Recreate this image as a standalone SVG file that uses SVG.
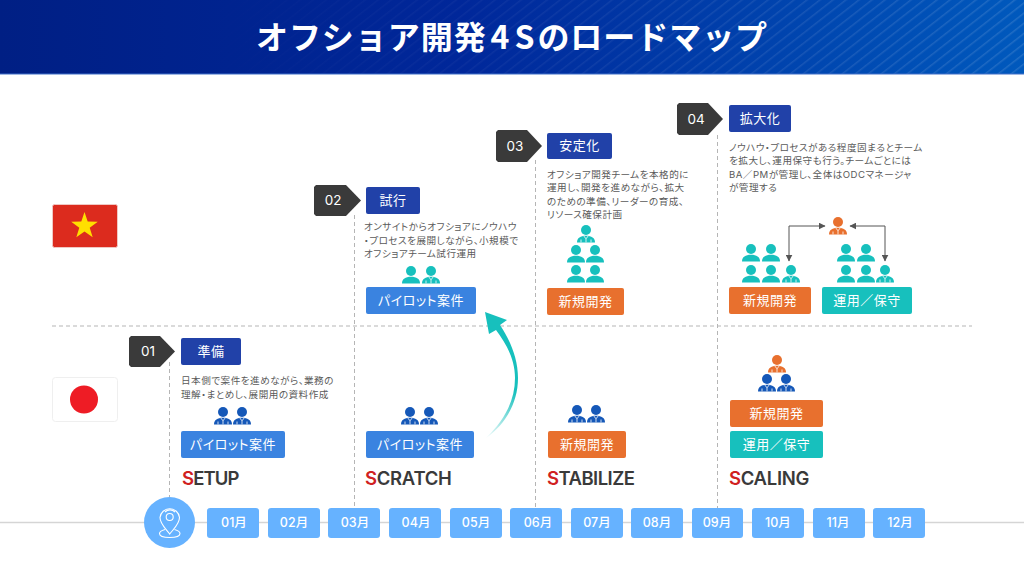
<svg xmlns="http://www.w3.org/2000/svg" width="1024" height="576" viewBox="0 0 1024 576">
<defs>
<style>
text{font-family:"Inter","Noto Sans CJK JP","Noto Sans",sans-serif}
.title{font-family:"Noto Sans CJK JP",sans-serif;font-size:32px;font-weight:700;fill:#fff;letter-spacing:.95px;text-anchor:middle}
.tag{fill:#3a3a3a}
.tagt{font-size:13.5px;fill:#fff;font-weight:400;text-anchor:middle}
.lb{fill:#fff;font-size:13px;text-anchor:middle;letter-spacing:.5px;font-weight:400;font-feature-settings:"palt"}
.navy{fill:#2141a8}.blue{fill:#3a83e0}.orange{fill:#e8702e}.teal{fill:#17c0bd}
.desc{font-size:9.6px;fill:#5a5a5a;letter-spacing:.48px;font-feature-settings:"palt"}
.ph{font-size:18.5px;font-weight:600;fill:#3a3a3a;letter-spacing:-.3px}
.ph tspan{fill:#d0211f}
.mon rect{fill:#66b2ff}
.mon text{fill:#fff;font-size:12.5px;font-weight:500;text-anchor:middle}
.dash{stroke:#b5b5b5;stroke-width:1;stroke-dasharray:4 3;fill:none}
.ar{stroke:#555;stroke-width:1;fill:none;marker-start:url(#ah);marker-end:url(#ah)}
.pt{fill:#17c0bd}.pb{fill:#1558b8}.po{fill:#e8702e}
</style>
<linearGradient id="hg" x1="0" x2="1" y1="0" y2="0"><stop offset="0" stop-color="#001f84"/><stop offset=".45" stop-color="#00279a"/><stop offset="1" stop-color="#0059bd"/></linearGradient>
<linearGradient id="hm" x1="0" x2="1" y1="0" y2="0"><stop offset=".2" stop-color="#000"/><stop offset="1" stop-color="#fff"/></linearGradient>
<mask id="hmask"><rect width="1024" height="74" fill="url(#hm)"/></mask>
<pattern id="hatch" width="8" height="8" patternUnits="userSpaceOnUse" patternTransform="rotate(-38)"><rect width="8" height="1.5" fill="#fff" fill-opacity=".13"/></pattern>
<linearGradient id="ag" gradientUnits="userSpaceOnUse" x1="484" y1="440" x2="512" y2="390"><stop offset="0" stop-color="#17c0bd" stop-opacity="0"/><stop offset="1" stop-color="#17c0bd"/></linearGradient>
<marker id="ah" markerWidth="7" markerHeight="7" refX="5.5" refY="3" orient="auto-start-reverse" markerUnits="userSpaceOnUse" viewBox="0 0 6 6"><path d="M0,0L6,3L0,6z" fill="#555"/></marker>
<symbol id="man" viewBox="0 0 18 18" overflow="visible"><circle cx="9" cy="5" r="5"/><path d="M0,17.400C0,13 3.500,10.800 9,10.800S18,13 18,17.400z"/></symbol>
<symbol id="suit" viewBox="0 0 18 18" overflow="visible"><circle cx="9" cy="5" r="5"/><path d="M0,17.400C0,13 3.500,10.800 9,10.800S18,13 18,17.400z"/><path d="M6.800,11L9,13.800L11.200,11M9,13.800V17.400M4,14.500V17.400M14,14.500V17.400" fill="none" stroke="#fff" stroke-width=".8"/></symbol>
</defs>

<g id="header">
<rect width="1024" height="74" fill="url(#hg)"/>
<rect width="1024" height="74" fill="url(#hatch)" mask="url(#hmask)"/>
<rect y="73.500" width="1024" height="1" fill="#3f6fc8"/>
<text class="title" x="512" y="48.500">オフショア開発<tspan dx="4">4</tspan><tspan dx="4">S</tspan><tspan dx="2">のロードマップ</tspan></text>
</g>

<g id="grid">
<path class="dash" d="M52,326H972"/>
<path class="dash" d="M169.500,362V500M354.500,215V510M535.500,160V510M717.500,135V510"/>
<path d="M0,522.500H1024" stroke="#d5d5d5" stroke-width="1.500"/>
</g>

<g id="flag-vn"><rect x="52.500" y="204.500" width="65" height="43" rx="2" fill="#dc2b1e" stroke="#f0c8c4"/><polygon points="84.500,212 87.700,221.600 97.800,221.700 89.700,227.700 92.700,237.300 84.500,231.500 76.300,237.300 79.300,227.700 71.200,221.700 81.300,221.600" fill="#ffdf00"/></g>
<g id="flag-jp"><rect x="52.500" y="377.500" width="65" height="44" rx="3" fill="#fff" stroke="#efefef"/><circle cx="84" cy="399.500" r="14" fill="#ee1c25"/></g>

<g id="connectors">
<path d="M486,438C505,420 515,400 515,378C515,358 505,342 496,330L489,334L485,312L507,320L500,325C510,340 518,358 518,378C518,402 506,424 486,438z" fill="url(#ag)"/>
<path class="ar" d="M789,261V226H825"/>
<path class="ar" d="M885,261V226H850"/>
</g>

<g id="step-01">
<polygon class="tag" points="131,336 160,336 175,351.500 160,367 131,367 129,365 129,338"/>
<text class="tagt" x="148" y="356">01</text>
<rect class="navy" x="181" y="338" width="60" height="27" rx="2"/>
<text class="lb" x="211" y="356">準備</text>
<text class="desc"><tspan x="181" y="384">日本側で案件を進めながら、業務の</tspan><tspan x="181" y="398">理解・まとめし、展開用の資料作成</tspan></text>
<use href="#suit" x="214" y="407" width="18" height="18" class="pb"/><use href="#suit" x="233" y="407" width="18" height="18" class="pb"/>
<rect class="blue" x="181" y="431" width="104" height="27" rx="2"/>
<text class="lb" x="233" y="449">パイロット案件</text>
<text class="ph" x="182" y="485" style="letter-spacing:-.9px"><tspan>S</tspan>ETUP</text>
</g>

<g id="step-02">
<polygon class="tag" points="316,185 346,185 361,200.500 346,216 316,216 314,214 314,187"/>
<text class="tagt" x="333" y="205">02</text>
<rect class="navy" x="366" y="187" width="54" height="27" rx="2"/>
<text class="lb" x="393" y="205">試行</text>
<text class="desc"><tspan x="364" y="230">オンサイトからオフショアにノウハウ</tspan><tspan x="364" y="244">・プロセスを展開しながら、小規模で</tspan><tspan x="364" y="257">オフショアチーム試行運用</tspan></text>
<use href="#man" x="402" y="266" width="18" height="18" class="pt"/><use href="#suit" x="422" y="266" width="18" height="18" class="pt"/>
<rect class="blue" x="366" y="287" width="110" height="27" rx="2"/>
<text class="lb" x="421" y="305">パイロット案件</text>
<use href="#suit" x="401" y="407" width="18" height="18" class="pb"/><use href="#suit" x="420" y="407" width="18" height="18" class="pb"/>
<rect class="blue" x="366" y="431" width="108" height="27" rx="2"/>
<text class="lb" x="420" y="449">パイロット案件</text>
<text class="ph" x="365" y="485"><tspan>S</tspan>CRATCH</text>
</g>

<g id="step-03">
<polygon class="tag" points="498,130 527,130 542,146 527,162 498,162 496,160 496,132"/>
<text class="tagt" x="515" y="151">03</text>
<rect class="navy" x="547" y="133" width="65" height="26" rx="2"/>
<text class="lb" x="579.500" y="150">安定化</text>
<text class="desc"><tspan x="547" y="178">オフショア開発チームを本格的に</tspan><tspan x="547" y="191">運用し、開発を進めながら、拡大</tspan><tspan x="547" y="205">のための準備、リーダーの育成、</tspan><tspan x="547" y="218">リソース確保計画</tspan></text>
<use href="#suit" x="577" y="225" width="18" height="18" class="pt"/>
<use href="#man" x="567" y="245" width="18" height="18" class="pt"/><use href="#man" x="586" y="245" width="18" height="18" class="pt"/>
<use href="#man" x="567" y="265" width="18" height="18" class="pt"/><use href="#man" x="586" y="265" width="18" height="18" class="pt"/>
<rect class="orange" x="547" y="288" width="77" height="27" rx="2"/>
<text class="lb" x="585.500" y="306">新規開発</text>
<use href="#suit" x="568" y="405" width="18" height="18" class="pb"/><use href="#suit" x="587" y="405" width="18" height="18" class="pb"/>
<rect class="orange" x="548" y="431" width="78" height="27" rx="2"/>
<text class="lb" x="587" y="449">新規開発</text>
<text class="ph" x="547" y="485" style="letter-spacing:-.55px"><tspan>S</tspan>TABILIZE</text>
</g>

<g id="step-04">
<polygon class="tag" points="679,103 708,103 723,119 708,135 679,135 677,133 677,105"/>
<text class="tagt" x="696" y="124">04</text>
<rect class="navy" x="729" y="105" width="62" height="27" rx="2"/>
<text class="lb" x="760" y="123">拡大化</text>
<text class="desc"><tspan x="729" y="151">ノウハウ・プロセスがある程度固まるとチーム</tspan><tspan x="729" y="164">を拡大し、運用保守も行う。チームごとには</tspan><tspan x="729" y="178">BA／PMが管理し、全体はODCマネージャ</tspan><tspan x="729" y="191">が管理する</tspan></text>
<use href="#suit" x="829" y="217" width="18" height="18" class="po"/>
<use href="#man" x="742" y="244" width="18" height="18" class="pt"/><use href="#man" x="762" y="244" width="18" height="18" class="pt"/>
<use href="#man" x="742" y="265" width="18" height="18" class="pt"/><use href="#man" x="762" y="265" width="18" height="18" class="pt"/><use href="#suit" x="782" y="265" width="18" height="18" class="pt"/>
<use href="#man" x="837" y="244" width="18" height="18" class="pt"/><use href="#man" x="857" y="244" width="18" height="18" class="pt"/>
<use href="#man" x="837" y="265" width="18" height="18" class="pt"/><use href="#man" x="857" y="265" width="18" height="18" class="pt"/><use href="#suit" x="876" y="265" width="18" height="18" class="pt"/>
<rect class="orange" x="729" y="287" width="82" height="27" rx="2"/>
<text class="lb" x="770" y="305">新規開発</text>
<rect class="teal" x="822" y="287" width="90" height="27" rx="2"/>
<text class="lb" x="867" y="305">運用／保守</text>
<use href="#suit" x="768" y="355" width="18" height="18" class="po"/>
<use href="#suit" x="758" y="374" width="18" height="18" class="pb"/><use href="#suit" x="777" y="374" width="18" height="18" class="pb"/>
<rect class="orange" x="730" y="400" width="93" height="27" rx="2"/>
<text class="lb" x="776.500" y="418">新規開発</text>
<rect class="teal" x="730" y="431" width="93" height="27" rx="2"/>
<text class="lb" x="776.500" y="449">運用／保守</text>
<text class="ph" x="729" y="485"><tspan>S</tspan>CALING</text>
</g>

<g id="timeline-pin">
<circle cx="169.500" cy="522.500" r="25.500" fill="#66b2ff"/>
<g fill="none" stroke="#fff" stroke-width="1.100"><path d="M169.700,534C166,529 160,524 160,517.500A9.800,9.800 0 0 1 179.500,517.500C179.500,524 173.500,529 169.700,534z"/><circle cx="169.700" cy="517" r="3.500"/><path d="M165,529.500C161.500,530.500 159.500,532 159.500,533.500C159.500,536 164,537.500 169.700,537.500S180,536 180,533.500C180,532 178,530.500 174.500,529.500"/><path d="M165,512A7,7 0 0 1 175,512"/></g>
</g>
<g id="months" class="mon">
<g><rect x="207" y="508" width="52" height="30" rx="3"/><text x="234" y="527">01月</text></g>
<g><rect x="268" y="508" width="52" height="30" rx="3"/><text x="294" y="527">02月</text></g>
<g><rect x="328" y="508" width="52" height="30" rx="3"/><text x="355" y="527">03月</text></g>
<g><rect x="389" y="508" width="52" height="30" rx="3"/><text x="416" y="527">04月</text></g>
<g><rect x="450" y="508" width="52" height="30" rx="3"/><text x="476" y="527">05月</text></g>
<g><rect x="510" y="508" width="52" height="30" rx="3"/><text x="538" y="527">06月</text></g>
<g><rect x="571" y="508" width="52" height="30" rx="3"/><text x="597" y="527">07月</text></g>
<g><rect x="631" y="508" width="52" height="30" rx="3"/><text x="657" y="527">08月</text></g>
<g><rect x="692" y="508" width="51" height="30" rx="3"/><text x="717" y="527">09月</text></g>
<g><rect x="752" y="508" width="52" height="30" rx="3"/><text x="778" y="527">10月</text></g>
<g><rect x="813" y="508" width="52" height="30" rx="3"/><text x="838" y="527">11月</text></g>
<g><rect x="873" y="508" width="52" height="30" rx="3"/><text x="900" y="527">12月</text></g>
</g>
</svg>
